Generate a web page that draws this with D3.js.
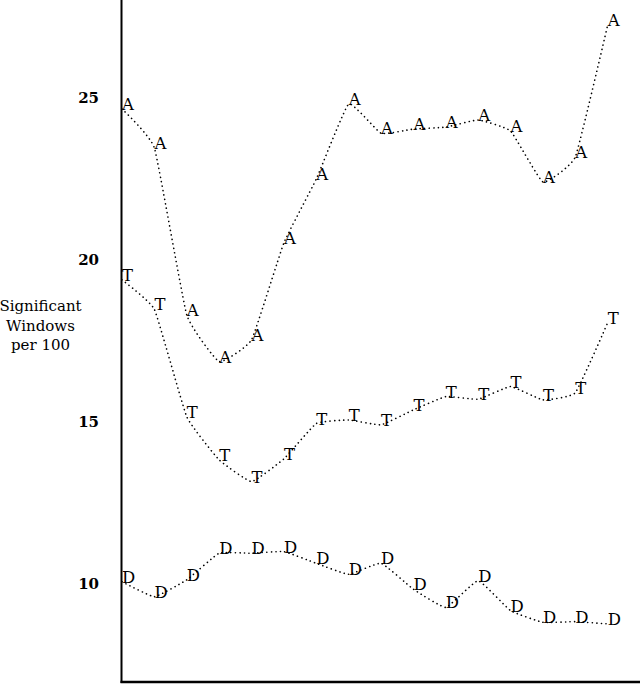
<!DOCTYPE html>
<html>
<head>
<meta charset="utf-8">
<script src="https://cdn.jsdelivr.net/npm/d3@7"></script>
<style>
  body { margin: 0; background: #fff; }
  svg { display: block; }
</style>
</head>
<body>
<div id="vis-container"></div>
<script>
// chart values
const positions = d3.range(16);
const seriesA = [24.64, 23.44, 18.29, 16.85, 17.52, 20.51, 22.48, 24.79, 23.89, 24.02, 24.08, 24.3, 23.96, 22.39, 23.16, 27.23];
const seriesT = [19.37, 18.46, 15.15, 13.82, 13.15, 13.85, 14.94, 15.05, 14.9, 15.36, 15.77, 15.69, 16.08, 15.67, 15.89, 18.05];
const seriesD = [10.06, 9.6, 10.12, 10.94, 10.94, 10.99, 10.63, 10.29, 10.63, 9.83, 9.27, 10.09, 9.17, 8.81, 8.83, 8.76];
const seriesNames = ["A", "T", "D"];
const yTicks = [10, 15, 20, 25];
const titleLines = ["Significant", "Windows", "per 100"];

const width = 640;
const height = 684;
const axisX = 121.5;
const axisY = 682;

const svg = d3.select("#vis-container")
  .append("svg")
  .attr("width", width)
  .attr("height", height);

const x = d3.scaleLinear()
  .domain([0, 15])
  .range([122, 607.7]);

const y = d3.scaleLinear()
  .domain([7, 28])
  .range([681, 0]);

// axes lines
svg.append("line")
  .attr("x1", axisX).attr("x2", axisX)
  .attr("y1", 0).attr("y2", axisY + 1)
  .attr("stroke", "#000").attr("stroke-width", 2);

svg.append("line")
  .attr("x1", axisX - 1).attr("x2", width)
  .attr("y1", axisY).attr("y2", axisY)
  .attr("stroke", "#000").attr("stroke-width", 2.5);

// y tick labels (no tick marks)
svg.append("g")
  .selectAll("text")
  .data(yTicks)
  .join("text")
    .attr("x", 99)
    .attr("y", d => y(d))
    .attr("dy", "0.36em")
    .attr("text-anchor", "end")
    .attr("font-family", "DejaVu Serif")
    .attr("font-weight", "bold")
    .attr("font-size", 15)
    .text(d => d);

// y axis title
svg.append("g")
  .selectAll("text")
  .data(titleLines)
  .join("text")
    .attr("x", 40.5)
    .attr("y", (d, i) => 311 + i * 19.5)
    .attr("text-anchor", "middle")
    .attr("font-family", "DejaVu Serif")
    .attr("font-size", 15)
    .text(d => d);

const allSeries = [seriesA, seriesT, seriesD].map((vals, k) => ({
  name: seriesNames[k],
  points: vals.map((v, i) => ({ i: positions[i], v: v }))
}));

const line = d3.line()
  .x(d => x(d.i))
  .y(d => y(d.v))
  .curve(d3.curveCardinal.tension(0.65));

const groups = svg.append("g")
  .selectAll("g")
  .data(allSeries)
  .join("g");

groups.append("path")
  .attr("d", d => line(d.points))
  .attr("fill", "none")
  .attr("stroke", "#000")
  .attr("stroke-width", 1.6)
  .attr("stroke-linecap", "round")
  .attr("stroke-dasharray", "0.1,4.4");

groups.selectAll("text")
  .data(d => d.points.map(p => ({ name: d.name, i: p.i, v: p.v })))
  .join("text")
    .attr("x", d => x(d.i))
    .attr("y", d => y(d.v) + 1)
    .attr("font-family", "DejaVu Serif")
    .attr("font-size", 16.5)
    .text(d => d.name);
</script>
</body>
</html>
